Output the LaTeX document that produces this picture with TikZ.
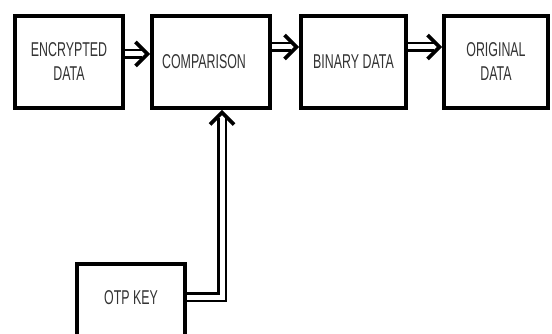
\documentclass[tikz,border=0pt]{standalone}
\usepackage{fontspec}
\setmainfont[FakeStretch=0.62]{Liberation Sans}
\usetikzlibrary{calc}
\definecolor{txt}{HTML}{333333}
\begin{document}
\begin{tikzpicture}[x=1pt,y=-1pt,
  box/.style={draw=black, line width=4pt, fill=white, minimum height=92pt, inner sep=0pt,
    font=\fontsize{20}{24}\selectfont, text=txt, align=center},
  lbl/.style={font=\fontsize{20}{24}\selectfont, text=txt, align=center, inner sep=0pt},
  shaft/.style={draw=black, line width=2.8pt, double=white, double distance=5pt},
  head/.style={draw=black, line width=3.6pt, miter limit=10}]
\clip (0,0) rectangle (552,334);
\fill[white] (0,0) rectangle (552,334);
\node[box, minimum width=108pt] (enc) at (69,62) {ENCRYPTED\\DATA};
\node[box, minimum width=118pt] (cmp) at (211,62) {};
\node[lbl] (cmpt) at (204,62) {COMPARISON};
\node[box, minimum width=105pt] (bin) at (353.5,62) {BINARY DATA};
\node[box, minimum width=104pt] (org) at (496,62) {ORIGINAL\\DATA};
\node[box, minimum width=108pt, minimum height=120pt, anchor=north] (otp) at (131,262) {};
\node[lbl] (otpt) at (131,298) {OTP KEY};
% tip points
\coordinate (t1) at ($(cmp.west |- 0,54)+(-2.5,0)$);
\coordinate (t2) at ($(bin.west |- 0,47)+(-2.5,0)$);
\coordinate (t3) at ($(org.west |- 0,47)+(-2.5,0)$);
\coordinate (t4) at ($(cmp.south)+(11,2.5)$);
% shafts
\draw[shaft] (enc.east |- 0,54) -- ($(t1)+(-6,0)$);
\draw[shaft] (cmp.east |- 0,47) -- ($(t2)+(-6,0)$);
\draw[shaft] (bin.east |- 0,47) -- ($(t3)+(-6,0)$);
\draw[shaft] (otp.east |- 0,297) -| ($(t4)+(0,6)$);
% heads
\draw[head] ($(t1)+(-12,-12)$) -- (t1) -- ($(t1)+(-12,12)$);
\draw[head] ($(t2)+(-12,-12)$) -- (t2) -- ($(t2)+(-12,12)$);
\draw[head] ($(t3)+(-12,-12)$) -- (t3) -- ($(t3)+(-12,12)$);
\draw[head] ($(t4)+(-12,12)$) -- (t4) -- ($(t4)+(12,12)$);
\end{tikzpicture}
\end{document}
